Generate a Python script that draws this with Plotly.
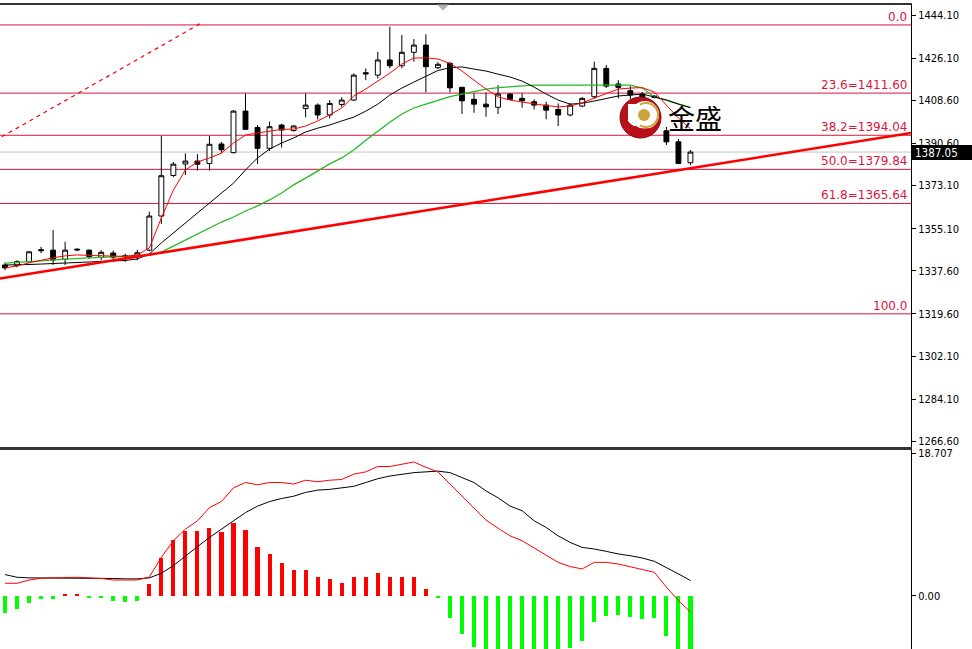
import plotly.graph_objects as go

# ---------------- data ----------------
bar_index = list(range(58))

open_ = [1340.0, 1339.8, 1341.4, 1346.4, 1346.2, 1342.4, 1346.6, 1346.2, 1343.2, 1345.0,
         1343.9, 1343.7, 1346.2, 1360.4, 1377.3, 1382.1, 1383.3, 1382.3, 1390.4, 1386.8,
         1404.1, 1397.3, 1388.6, 1398.3, 1396.0, 1405.2, 1406.6, 1402.5, 1406.9, 1408.7,
         1420.1, 1419.1, 1425.4, 1423.0, 1428.6, 1431.6, 1422.2, 1424.0, 1414.0, 1409.0,
         1407.0, 1405.7, 1411.2, 1409.4, 1408.0, 1406.6, 1404.8, 1402.5, 1406.2, 1410.1,
         1421.9, 1415.4, 1412.6, 1411.2, 1410.3, 1395.9, 1391.3, 1382.6]
high_ = [1341.0, 1342.0, 1345.6, 1347.6, 1354.6, 1349.7, 1347.0, 1346.5, 1346.2, 1346.0,
         1344.7, 1346.3, 1362.2, 1393.7, 1382.9, 1386.5, 1386.2, 1393.7, 1391.3, 1404.5,
         1411.5, 1398.3, 1399.7, 1398.8, 1398.2, 1411.5, 1407.3, 1408.7, 1409.9, 1419.8,
         1421.9, 1428.8, 1439.2, 1435.8, 1434.1, 1436.1, 1424.5, 1424.5, 1414.2, 1411.5,
         1411.7, 1414.9, 1411.5, 1411.5, 1409.0, 1408.0, 1407.3, 1407.5, 1410.0, 1424.7,
         1423.3, 1417.0, 1414.5, 1412.0, 1410.8, 1397.6, 1392.5, 1387.9]
low_ = [1337.8, 1339.0, 1341.0, 1344.9, 1340.0, 1340.0, 1345.9, 1342.5, 1341.9, 1342.0,
        1341.3, 1342.0, 1345.7, 1357.1, 1376.6, 1377.5, 1379.3, 1379.3, 1386.8, 1386.5,
        1396.3, 1382.1, 1387.5, 1388.9, 1395.6, 1401.5, 1400.6, 1401.1, 1405.9, 1408.3,
        1417.0, 1417.7, 1421.9, 1421.9, 1424.7, 1411.9, 1421.6, 1411.9, 1402.9, 1403.4,
        1401.8, 1402.9, 1408.8, 1405.5, 1404.8, 1400.7, 1397.9, 1401.9, 1405.8, 1409.4,
        1413.7, 1409.4, 1409.0, 1408.2, 1409.4, 1390.0, 1382.0, 1381.6]
close_ = [1338.8, 1341.4, 1345.5, 1346.0, 1342.1, 1346.2, 1346.3, 1343.5, 1345.3, 1343.2,
          1343.5, 1345.1, 1360.4, 1377.2, 1382.0, 1383.3, 1382.0, 1390.3, 1388.0, 1404.1,
          1396.5, 1388.6, 1397.6, 1396.2, 1397.9, 1406.6, 1402.5, 1407.3, 1408.7, 1419.1,
          1419.6, 1425.4, 1423.0, 1428.6, 1431.6, 1422.6, 1423.6, 1413.8, 1408.4, 1407.0,
          1405.9, 1411.2, 1409.0, 1408.4, 1406.6, 1404.5, 1402.5, 1406.6, 1409.4, 1421.9,
          1414.5, 1414.0, 1410.8, 1409.4, 1409.8, 1391.3, 1382.3, 1387.05]

ma_fast = [1338.8, 1339.6, 1340.9, 1342.1, 1343.0, 1343.8, 1344.2, 1344.0, 1343.8, 1343.8,
           1343.6, 1344.2, 1347.1, 1359.6, 1371.2, 1379.6, 1382.9, 1384.6, 1386.6, 1390.8,
           1394.1, 1395.0, 1395.8, 1396.5, 1396.6, 1397.9, 1400.0, 1402.5, 1405.4, 1410.4,
           1413.3, 1416.6, 1419.9, 1423.7, 1426.2, 1426.3, 1425.8, 1424.0, 1420.8, 1417.0,
           1413.3, 1410.0, 1408.7, 1407.9, 1407.0, 1406.4, 1405.9, 1406.2, 1407.6, 1409.5,
           1411.6, 1413.3, 1413.7, 1413.9, 1412.0, 1406.6, 1401.2, 1396.8]
ma_mid = [1340.0, 1340.0, 1340.2, 1340.4, 1340.6, 1340.8, 1341.0, 1341.3, 1341.5, 1341.7,
          1341.9, 1342.5, 1344.6, 1349.2, 1353.3, 1357.5, 1361.7, 1365.8, 1369.6, 1374.1,
          1379.6, 1384.6, 1388.3, 1390.8, 1392.9, 1395.4, 1397.0, 1398.3, 1400.0, 1401.6,
          1404.1, 1407.0, 1410.8, 1413.7, 1416.2, 1418.7, 1421.0, 1422.2, 1422.5, 1421.6,
          1420.8, 1419.5, 1418.3, 1416.6, 1414.1, 1411.2, 1408.7, 1407.0, 1407.4, 1408.3,
          1409.5, 1410.4, 1410.8, 1411.2, 1410.0, 1408.7, 1407.0, 1405.6]
ma_slow = [1340.8, 1341.0, 1341.4, 1341.7, 1342.1, 1342.5, 1342.8, 1343.0, 1343.2, 1343.3,
           1343.5, 1343.8, 1344.0, 1345.4, 1347.9, 1350.4, 1352.9, 1355.4, 1357.9, 1360.0,
           1362.5, 1364.6, 1367.1, 1370.0, 1373.4, 1376.2, 1379.1, 1382.1, 1384.6, 1387.9,
           1392.0, 1395.8, 1399.5, 1402.9, 1405.4, 1407.0, 1408.7, 1410.1, 1411.2, 1412.4,
           1413.3, 1413.9, 1414.3, 1414.7, 1414.9, 1414.9, 1414.9, 1414.9, 1414.9, 1414.9,
           1414.9, 1414.9, 1414.9, 1413.7, 1410.0, 1408.7, 1407.0, 1405.6]

macd_line = [1.67, 1.67, 2.1, 2.33, 2.38, 2.45, 2.45, 2.38, 2.3, 2.1,
             2.1, 2.1, 2.5, 5.07, 7.25, 8.78, 9.87, 11.6, 12.4, 14.2,
             14.9, 14.6, 14.9, 14.9, 14.7, 15.2, 15.0, 15.2, 15.3, 16.0,
             16.3, 17.0, 17.0, 17.3, 17.6, 16.9, 16.3, 14.7, 13.1, 11.6,
             9.96, 8.9, 7.9, 7.25, 6.3, 5.42, 4.42, 3.86, 3.55, 4.42,
             4.42, 4.2, 3.86, 3.42, 3.11, 1.15, -0.59, -2.1]
signal_line = [2.81, 2.46, 2.38, 2.38, 2.38, 2.38, 2.38, 2.38, 2.38, 2.3,
               2.25, 2.25, 2.38, 2.98, 3.99, 5.29, 6.47, 7.69, 8.78, 9.87,
               10.95, 11.8, 12.4, 12.8, 13.1, 13.6, 13.9, 14.0, 14.2, 14.4,
               14.9, 15.4, 15.75, 16.0, 16.2, 16.3, 16.4, 16.2, 15.5, 14.9,
               13.8, 12.9, 11.8, 11.2, 9.87, 9.0, 7.9, 7.03, 6.38, 6.17,
               5.86, 5.52, 5.29, 4.99, 4.55, 3.76, 2.9, 2.03]
histogram = [-2.18, -1.66, -0.87, -0.35, -0.35, 0.2, 0.2, -0.3, -0.3, -0.6,
             -0.8, -0.6, 1.53, 4.97, 7.3, 8.5, 8.5, 8.98, 8.4, 9.63,
             8.63, 6.4, 5.58, 4.36, 3.36, 3.36, 2.53, 2.18, 1.66, 2.53,
             2.53, 3.0, 2.53, 2.53, 2.53, 0.87, -0.3, -2.83, -5.0, -6.75,
             -7.7, -8.0, -7.8, -7.9, -7.2, -7.2, -7.0, -6.8, -5.9, -3.36,
             -2.6, -2.48, -2.7, -3.05, -2.83, -5.2, -7.2, -8.3]

fib_levels = ["0.0", "23.6", "38.2", "50.0", "61.8", "100.0"]
fib_prices = [1440.0, 1411.60, 1394.04, 1379.84, 1365.64, 1319.67]
fib_labels = ["0.0", "23.6=1411.60", "38.2=1394.04", "50.0=1379.84", "61.8=1365.64", "100.0"]

trend_x = [-0.42, 75.34]
trend_y = [1334.4, 1395.0]
fib_anchor_x = [-0.27, 16.36]
fib_anchor_y = [1393.4, 1440.9]

current_price = 1387.05

price_ticks = [1444.10, 1426.10, 1408.60, 1390.60, 1373.10, 1355.10,
               1337.60, 1319.60, 1302.10, 1284.10, 1266.60]
macd_ticks = [18.707, 0.0]
macd_tick_text = ["18.707", "0.00"]

# ---------------- figure ----------------
W, H = 972, 649
ML, MR, MT, MB = 0, 61, 5, 0
PW, PH = W - ML - MR, H - MT - MB


def px_x(x):
    return (x - ML) / PW


def px_y(y):
    return (H - MB - y) / PH


TICKFONT = dict(family="DejaVu Sans Condensed, DejaVu Sans, sans-serif", size=11, color="#000000")
FIBFONT = dict(family="DejaVu Sans, sans-serif", size=12, color="#DC143C")

fig = go.Figure()

fig.add_trace(go.Candlestick(
    x=bar_index, open=open_, high=high_, low=low_, close=close_,
    increasing=dict(line=dict(color="#000000", width=1), fillcolor="#ffffff"),
    decreasing=dict(line=dict(color="#000000", width=1), fillcolor="#000000"),
    whiskerwidth=0, showlegend=False, hoverinfo="skip",
    xaxis="x", yaxis="y"))

fig.add_trace(go.Scatter(x=bar_index, y=ma_slow, mode="lines",
                         line=dict(color="#22bb22", width=1.3), showlegend=False,
                         hoverinfo="skip", xaxis="x", yaxis="y"))
fig.add_trace(go.Scatter(x=bar_index, y=ma_mid, mode="lines",
                         line=dict(color="#000000", width=1), showlegend=False,
                         hoverinfo="skip", xaxis="x", yaxis="y"))
fig.add_trace(go.Scatter(x=bar_index, y=ma_fast, mode="lines",
                         line=dict(color="#ff0000", width=1), showlegend=False,
                         hoverinfo="skip", xaxis="x", yaxis="y"))
fig.add_trace(go.Scatter(x=trend_x, y=trend_y, mode="lines",
                         line=dict(color="#ff0000", width=2.6), showlegend=False,
                         hoverinfo="skip", xaxis="x", yaxis="y"))
fig.add_trace(go.Scatter(x=fib_anchor_x, y=fib_anchor_y, mode="lines",
                         line=dict(color="#ff0000", width=1.2, dash="4px,4px"),
                         showlegend=False, hoverinfo="skip", xaxis="x", yaxis="y"))

bar_colors = ["#ff0000" if v > 0 else "#00ff00" for v in histogram]
fig.add_trace(go.Bar(x=bar_index, y=histogram, width=0.34,
                     marker=dict(color=bar_colors, line=dict(width=0)),
                     showlegend=False, hoverinfo="skip", xaxis="x2", yaxis="y2"))
fig.add_trace(go.Scatter(x=bar_index, y=signal_line, mode="lines",
                         line=dict(color="#000000", width=1), showlegend=False,
                         hoverinfo="skip", xaxis="x2", yaxis="y2"))
fig.add_trace(go.Scatter(x=bar_index, y=macd_line, mode="lines",
                         line=dict(color="#ff0000", width=1), showlegend=False,
                         hoverinfo="skip", xaxis="x2", yaxis="y2"))

shapes = []
for p in fib_prices:
    shapes.append(dict(type="line", xref="paper", yref="y", x0=0, x1=1, y0=p, y1=p,
                       line=dict(color="#DC143C", width=1), layer="below"))
shapes.append(dict(type="line", xref="paper", yref="y", x0=0, x1=1,
                   y0=current_price, y1=current_price,
                   line=dict(color="#c4c4c4", width=1), layer="below"))
# current price box on the axis
shapes.append(dict(type="rect", xref="paper", yref="paper",
                   x0=px_x(912), x1=px_x(975), y0=px_y(160), y1=px_y(145),
                   fillcolor="#000000", line=dict(width=0), layer="above"))
# small shift marker at the top
shapes.append(dict(type="path", xref="paper", yref="paper",
                   path="M {a},{b} L {c},{b} L {d},{e} Z".format(
                       a=px_x(437), c=px_x(449), b=px_y(4.5), d=px_x(443), e=px_y(10.5)),
                   fillcolor="#b0b0b0", line=dict(width=0)))
# logo
shapes.append(dict(type="circle", xref="paper", yref="paper",
                   x0=px_x(620), x1=px_x(661), y0=px_y(138), y1=px_y(97),
                   fillcolor="#b8101a", line=dict(color="#8a0a10", width=1)))
shapes.append(dict(type="circle", xref="paper", yref="paper",
                   x0=px_x(631), x1=px_x(659), y0=px_y(129), y1=px_y(101),
                   fillcolor="#ffffff", line=dict(width=0)))
shapes.append(dict(type="circle", xref="paper", yref="paper",
                   x0=px_x(634), x1=px_x(658), y0=px_y(127), y1=px_y(103),
                   fillcolor="rgba(0,0,0,0)", line=dict(color="#c9a53a", width=2)))
shapes.append(dict(type="rect", xref="paper", yref="paper",
                   x0=px_x(628), x1=px_x(640), y0=px_y(126), y1=px_y(104),
                   fillcolor="#ffffff", line=dict(width=0)))
shapes.append(dict(type="circle", xref="paper", yref="paper",
                   x0=px_x(638), x1=px_x(650), y0=px_y(121), y1=px_y(109),
                   fillcolor="#c9a53a", line=dict(width=0)))
shapes.append(dict(type="path", xref="paper", yref="paper",
                   path="M {a},{b} Q {c},{d} {e},{f} L {g},{h} Q {i},{j} {a},{b} Z".format(
                       a=px_x(622), b=px_y(110), c=px_x(624), d=px_y(140), e=px_x(657), f=px_y(130),
                       g=px_x(655), h=px_y(127), i=px_x(630), j=px_y(134)),
                   fillcolor="#b8101a", line=dict(width=0)))

annotations = []
for lab, p in zip(fib_labels, fib_prices):
    annotations.append(dict(xref="paper", yref="y", x=px_x(909), y=p, text=lab,
                            showarrow=False, xanchor="right", yanchor="bottom",
                            yshift=-1, font=FIBFONT))
annotations.append(dict(xref="paper", yref="paper", x=px_x(913), y=px_y(152.5),
                        text="1387.05", showarrow=False, xanchor="left", yanchor="middle",
                        font=dict(family=TICKFONT["family"], size=11.5, color="#ffffff")))
annotations.append(dict(xref="paper", yref="paper", x=px_x(695), y=px_y(118),
                        text="金盛", showarrow=False, xanchor="center", yanchor="middle",
                        font=dict(family="Noto Sans CJK SC, sans-serif", size=27, color="#000000")))

price_top = 1.0
price_bottom = px_y(447)
macd_top = px_y(450)

fig.update_layout(
    width=W, height=H,
    margin=dict(l=ML, r=MR, t=MT, b=MB),
    paper_bgcolor="#ffffff", plot_bgcolor="#ffffff",
    showlegend=False, bargap=0, boxgap=0.42,
    shapes=shapes, annotations=annotations,
    xaxis=dict(domain=[0, 1], anchor="y", range=[-0.416, 75.34],
               showticklabels=False, ticks="", showgrid=False, zeroline=False,
               showline=True, mirror=True, linecolor="#333333", linewidth=1.5,
               rangeslider=dict(visible=False), fixedrange=True),
    yaxis=dict(domain=[price_bottom, price_top], anchor="x", side="right",
               range=[1264.2, 1448.3], tickvals=price_ticks,
               ticktext=["%.2f" % v for v in price_ticks],
               ticks="outside", ticklen=4, tickcolor="#000000",
               showgrid=False, zeroline=False, showline=True,
               linecolor="#000000", linewidth=1, tickfont=TICKFONT),
    xaxis2=dict(domain=[0, 1], anchor="y2", matches="x", side="top",
                showticklabels=False, ticks="", showgrid=False, zeroline=False,
                showline=True, linecolor="#333333", linewidth=1.5),
    yaxis2=dict(domain=[0, macd_top], anchor="x2", side="right",
                range=[-6.96, 19.17], tickvals=macd_ticks, ticktext=macd_tick_text,
                ticks="outside", ticklen=4, tickcolor="#000000",
                showgrid=False, zeroline=False, showline=True,
                linecolor="#000000", linewidth=1, tickfont=TICKFONT),
)

fig.write_html("out.html", config={"displayModeBar": False},
               post_script="document.body.style.margin='0px';document.body.style.overflow='hidden';")
